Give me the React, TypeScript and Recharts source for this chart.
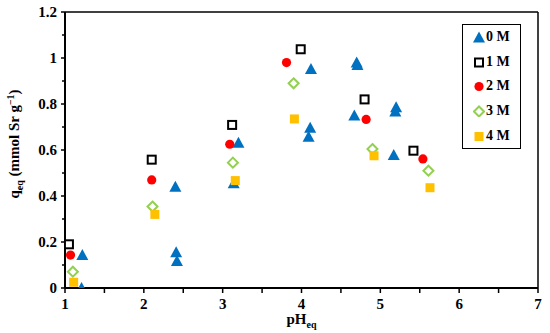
import React from 'react';
import { ScatterChart, Scatter, XAxis, YAxis, ReferenceLine, Legend } from 'recharts';

const ph0 = [1.21, 1.22, 2.40, 2.41, 2.42, 3.14, 3.20, 4.09, 4.11, 4.12, 4.67, 4.70, 4.71, 5.17, 5.19, 5.20];
const q0 = [0.0, 0.143, 0.44, 0.155, 0.117, 0.455, 0.632, 0.658, 0.697, 0.952, 0.75, 0.98, 0.97, 0.578, 0.767, 0.786];
const ph1 = [1.05, 2.10, 3.12, 3.99, 4.80, 5.42];
const q1 = [0.19, 0.558, 0.709, 1.038, 0.82, 0.597];
const ph2 = [1.07, 2.10, 3.09, 3.81, 4.82, 5.54];
const q2 = [0.143, 0.47, 0.625, 0.98, 0.733, 0.561];
const ph3 = [1.10, 2.11, 3.13, 3.90, 4.90, 5.61];
const q3 = [0.071, 0.354, 0.545, 0.89, 0.604, 0.51];
const ph4 = [1.11, 2.14, 3.16, 3.91, 4.92, 5.63];
const q4 = [0.025, 0.32, 0.467, 0.735, 0.575, 0.436];

const seriesNames = ['0 M', '1 M', '2 M', '3 M', '4 M'];
const xTicks = [1, 1.5, 2, 2.5, 3, 3.5, 4, 4.5, 5, 5.5, 6, 6.5, 7];
const yTicks = [0, 0.1, 0.2, 0.3, 0.4, 0.5, 0.6, 0.7, 0.8, 0.9, 1.0, 1.1, 1.2];

const toPts = (xs: number[], ys: number[]) => xs.map((x, i) => ({ x, y: ys[i] }));

const FONT = '"Liberation Serif", "Times New Roman", serif';

const Tri = (p: any) => (
  <path d={`M${p.cx},${p.cy - 6} L${p.cx + 6},${p.cy + 5} L${p.cx - 6},${p.cy + 5} Z`} fill="#0070C0" />
);
const Sq = (p: any) => (
  <rect x={p.cx - 4} y={p.cy - 4} width={8} height={8} fill="#fff" stroke="#000" strokeWidth={2} />
);
const Circ = (p: any) => <circle cx={p.cx} cy={p.cy} r={4.6} fill="#FF0000" />;
const Dia = (p: any) => (
  <path d={`M${p.cx},${p.cy - 5} L${p.cx + 5},${p.cy} L${p.cx},${p.cy + 5} L${p.cx - 5},${p.cy} Z`} fill="#fff" stroke="#92D050" strokeWidth={2} />
);
const OSq = (p: any) => (
  <rect x={p.cx - 4.5} y={p.cy - 4.5} width={9} height={9} fill="#FFC000" />
);
const shapes = [Tri, Sq, Circ, Dia, OSq];

const YTick = (props: any) => {
  const { x, y, payload, index } = props;
  const major = index % 2 === 0;
  const v = payload.value;
  const label = Math.abs(v - Math.round(v)) < 1e-9 ? String(Math.round(v)) : v.toFixed(1);
  return (
    <g>
      <line x1={x - (major ? 4 : 3)} x2={x} y1={y} y2={y} stroke="#000" strokeWidth={1.5} />
      {major && (
        <text x={x - 8} y={y} dy={5} textAnchor="end" fontFamily={FONT} fontWeight="bold" fontSize={15} fill="#000">
          {label}
        </text>
      )}
    </g>
  );
};

const XTick = (props: any) => {
  const { x, y, payload, index } = props;
  const major = index % 2 === 0;
  return (
    <g>
      <line x1={x} x2={x} y1={y} y2={y + 5} stroke="#000" strokeWidth={1.5} />
      {major && (
        <text x={x} y={y + 21} textAnchor="middle" fontFamily={FONT} fontWeight="bold" fontSize={15} fill="#000">
          {payload.value}
        </text>
      )}
    </g>
  );
};

const LegendBox = () => (
  <div
    style={{
      border: '1.5px solid #000',
      width: 59,
      height: 125,
      boxSizing: 'border-box',
      background: '#fff',
      paddingTop: 0,
    }}
  >
    {seriesNames.map((n, i) => {
      const S = shapes[i];
      return (
        <div key={n} style={{ display: 'flex', alignItems: 'center', height: 24.6, paddingLeft: 10 }}>
          <svg width={12} height={12} style={{ display: 'block' }}>
            <S cx={6} cy={6.5} />
          </svg>
          <span style={{ fontFamily: FONT, fontWeight: 'bold', fontSize: 14, marginLeft: 1, color: '#000', lineHeight: '14px' }}>{n}</span>
        </div>
      );
    })}
  </div>
);

export default function App() {
  const sets = [toPts(ph0, q0), toPts(ph1, q1), toPts(ph2, q2), toPts(ph3, q3), toPts(ph4, q4)];
  return (
    <div style={{ position: 'absolute', left: 0, top: 0, width: 550, height: 333, background: '#fff' }}>
      <ScatterChart width={550} height={333} margin={{ top: 12, right: 12, bottom: 0, left: 0 }}>
        <XAxis
          type="number"
          dataKey="x"
          domain={[1, 7]}
          ticks={xTicks}
          interval={0}
          allowDataOverflow
          height={45}
          tickSize={0}
          tickMargin={0}
          tickLine={false}
          axisLine={{ stroke: '#000', strokeWidth: 2 }}
          tick={<XTick />}
          label={({ viewBox }: any) => (
            <text x={viewBox.x + viewBox.width / 2} y={324} textAnchor="middle" fontFamily={FONT} fontWeight="bold" fontSize={15} fill="#000">
              pH<tspan fontSize={10} dy={4}>eq</tspan>
            </text>
          )}
        />
        <YAxis
          type="number"
          dataKey="y"
          domain={[0, 1.2]}
          ticks={yTicks}
          interval={0}
          allowDataOverflow
          width={65}
          tickSize={0}
          tickMargin={0}
          tickLine={false}
          axisLine={{ stroke: '#000', strokeWidth: 2 }}
          tick={<YTick />}
          label={({ viewBox }: any) => {
            const cx = 19;
            const cy = 144;
            return (
              <text x={cx} y={cy} transform={`rotate(-90 ${cx} ${cy})`} textAnchor="middle" fontFamily={FONT} fontWeight="bold" fontSize={15} fill="#000">
                q<tspan fontSize={10} dy={4}>eq</tspan>
                <tspan dy={-4}> (mmol Sr g</tspan>
                <tspan fontSize={10} dy={-5}>−1</tspan>
                <tspan dy={5}>)</tspan>
              </text>
            );
          }}
        />
        <ReferenceLine x={7} stroke="#000" strokeWidth={1.5} ifOverflow="extendDomain" />
        <ReferenceLine y={1.2} stroke="#000" strokeWidth={1.5} ifOverflow="extendDomain" />
        <Legend
          layout="vertical"
          align="center"
          verticalAlign="middle"
          content={() => <LegendBox />}
          wrapperStyle={{ position: 'absolute', left: 462, top: 24, width: 59, height: 125 }}
        />
        {sets.map((d, i) => (
          <Scatter key={seriesNames[i]} name={seriesNames[i]} data={d} shape={shapes[i]} isAnimationActive={false} />
        ))}
      </ScatterChart>
    </div>
  );
}
